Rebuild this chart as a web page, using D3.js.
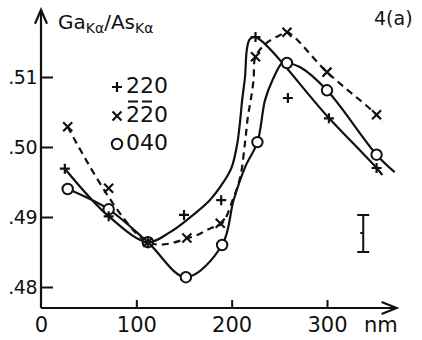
<!DOCTYPE html>
<html><head><meta charset="utf-8">
<script src="https://cdn.jsdelivr.net/npm/d3@7"></script>
<style>
html,body{margin:0;padding:0;background:#fff;}
svg{display:block;}
text{font-family:"DejaVu Sans",sans-serif;fill:#111;}
</style></head>
<body>
<svg id="c" width="422" height="340"></svg>
<script>
// ---- data (nm, Ga/As ratio) ----
const xTicks = [0, 100, 200, 300];
const xTickLabels = ["0", "100", "200", "300"];
const yTicks = [0.48, 0.49, 0.50, 0.51];
const yTickLabels = [".48", ".49", ".50", ".51"];

// measured points
const pts220 = [[25,.4969],[71,.4901],[112,.4864],[150,.4903],[189,.4924],[225,.5157],[259,.5070],[302,.5041],[352,.4970]];
const pts2b2b0 = [[28,.5029],[71,.4941],[112,.4864],[153,.4870],[188,.4891],[225,.5129],[258,.5164],[300,.5107],[352,.5046]];
const pts040 = [[28,.4940],[71,.4911],[112,.4864],[152,.4814],[190,.4860],[227,.5007],[258,.5120],[300,.5081],[352,.4989]];

// hand-drawn guide curves
const curve220 = [[25,.4969],[71,.4901],[112,.4864],[135,.4878],[156,.4899],[177,.4924],[191,.4949],[200,.4971],[206,.5006],[209,.5039],[211,.5067],[214,.5100],[216,.5140],[219,.5154],[225,.5157],[301,.5043],[352,.4970],[358,.4960]];
const curve2b2b0 = [[28,.5029],[112,.4864],[157,.4871],[178,.4884],[190,.4891],[201,.4924],[209,.4957],[214,.5006],[217,.5043],[220,.5067],[223,.5096],[225,.5129],[237,.5149],[251,.5160],[258,.5164],[300,.5107],[352,.5046],[358,.5036]];
const curve040 = [[28,.4940],[71,.4911],[112,.4864],[152,.4814],[190,.4860],[202,.4924],[214,.4971],[227,.5007],[235,.5067],[243,.5096],[253,.5120],[258,.5120],[272,.5114],[300,.5081],[352,.4989],[371,.4964]];

// typical error bar
const errX = [338];
const errRange = [[.4850, .4877, .4903]];

const legendLabels = ["220", "220", "040"];
const legendBarred = [[], [0, 1], []];
const legendSymbols = ["plus", "cross", "circle"];

// ---- drawing ----
const svg = d3.select("#c");
const x = d3.scaleLinear().domain([0, 300]).range([41, 327]);
const y = d3.scaleLinear().domain([0.48, 0.51]).range([287, 77]);
const xAxisVal = 0.477, yTopVal = 0.5196, xEndNm = 373;

const ink = "#111";

// axes lines with arrows
svg.append("line").attr("x1", x(0)).attr("x2", x(0)).attr("y1", y(xAxisVal)).attr("y2", y(yTopVal))
  .attr("stroke", ink).attr("stroke-width", 2.2);
svg.append("path").attr("d", `M${x(0)-6},${y(yTopVal)+14}L${x(0)},${y(yTopVal)}L${x(0)+6},${y(yTopVal)+14}`)
  .attr("fill", "none").attr("stroke", ink).attr("stroke-width", 2.2);
svg.append("line").attr("x1", x(0)).attr("x2", x(xEndNm)).attr("y1", y(xAxisVal)).attr("y2", y(xAxisVal))
  .attr("stroke", ink).attr("stroke-width", 2.2);
svg.append("path").attr("d", `M${x(xEndNm)-15},${y(xAxisVal)-6}L${x(xEndNm)},${y(xAxisVal)}L${x(xEndNm)-15},${y(xAxisVal)+6}`)
  .attr("fill", "none").attr("stroke", ink).attr("stroke-width", 2.2);

// x axis ticks
const gx = svg.append("g").attr("transform", `translate(0,${y(xAxisVal)})`)
  .call(d3.axisBottom(x).tickValues(xTicks).tickFormat((d, i) => xTickLabels[i]).tickSizeInner(-8).tickSizeOuter(0).tickPadding(9));
gx.select(".domain").remove();
gx.selectAll(".tick line").attr("stroke", ink).attr("stroke-width", 2).filter(d => d === 0).remove();
gx.selectAll(".tick text").attr("font-size", 21).attr("font-family", "DejaVu Sans").attr("fill", ink);

// y axis ticks
const gy = svg.append("g").attr("transform", `translate(${x(0)},0)`)
  .call(d3.axisLeft(y).tickValues(yTicks).tickFormat((d, i) => yTickLabels[i]).tickSizeInner(-12).tickSizeOuter(0).tickPadding(4));
gy.select(".domain").remove();
gy.selectAll(".tick line").attr("stroke", ink).attr("stroke-width", 2);
gy.selectAll(".tick text").attr("font-size", 19).attr("font-family", "DejaVu Sans").attr("fill", ink).attr("letter-spacing", -0.5);

// curves
const line = d3.line().x(d => x(d[0])).y(d => y(d[1])).curve(d3.curveCatmullRom.alpha(0.5));
svg.append("path").attr("d", line(curve220)).attr("fill", "none").attr("stroke", ink).attr("stroke-width", 2.2);
svg.append("path").attr("d", line(curve040)).attr("fill", "none").attr("stroke", ink).attr("stroke-width", 2.2);
svg.append("path").attr("d", line(curve2b2b0)).attr("fill", "none").attr("stroke", ink).attr("stroke-width", 2.2)
  .attr("stroke-dasharray", "7,5");

// markers
function drawMarker(g, type, cx, cy) {
  if (type === "plus") {
    g.append("path").attr("d", `M${cx-5},${cy}H${cx+5}M${cx},${cy-5}V${cy+5}`).attr("stroke", ink).attr("stroke-width", 2.2);
  } else if (type === "cross") {
    g.append("path").attr("d", `M${cx-4.5},${cy-4.5}L${cx+4.5},${cy+4.5}M${cx-4.5},${cy+4.5}L${cx+4.5},${cy-4.5}`).attr("stroke", ink).attr("stroke-width", 2.2);
  } else {
    g.append("circle").attr("cx", cx).attr("cy", cy).attr("r", 5.2).attr("fill", "#fff").attr("stroke", ink).attr("stroke-width", 2);
  }
}
const gm = svg.append("g");
pts040.forEach(d => drawMarker(gm, "circle", x(d[0]), y(d[1])));
pts220.forEach(d => drawMarker(gm, "plus", x(d[0]), y(d[1])));
pts2b2b0.forEach(d => drawMarker(gm, "cross", x(d[0]), y(d[1])));

// error bar
errX.forEach((ex, i) => {
  const [lo, mid, hi] = errRange[i];
  const cx = x(ex);
  svg.append("path").attr("d", `M${cx-6},${y(hi)}H${cx+6}M${cx},${y(hi)}V${y(lo)}M${cx-6},${y(lo)}H${cx+6}M${cx-3},${y(mid)}H${cx}`)
    .attr("fill", "none").attr("stroke", ink).attr("stroke-width", 2);
});

// legend (Miller indices, bars above negative indices)
const legBase = [93, 122, 150];
legendLabels.forEach((lab, i) => {
  drawMarker(svg, legendSymbols[i], 117, legBase[i] - 6);
  const tx = svg.append("text").attr("x", 126).attr("y", legBase[i]).attr("font-size", 22).text(lab);
  legendBarred[i].forEach(ci => {
    const ext = tx.node().getExtentOfChar(ci);
    svg.append("line").attr("x1", ext.x + 2).attr("x2", ext.x + ext.width - 2)
      .attr("y1", legBase[i] - 20.5).attr("y2", legBase[i] - 20.5)
      .attr("stroke", ink).attr("stroke-width", 2);
  });
});

// axis title
const t = svg.append("text").attr("x", 58).attr("y", 29).attr("font-size", 20);
t.append("tspan").text("Ga");
t.append("tspan").attr("font-size", 14).attr("dy", 4).text("Kα");
t.append("tspan").attr("dy", -4).text("/As");
t.append("tspan").attr("font-size", 14).attr("dy", 4).text("Kα");

svg.append("text").attr("x", 374).attr("y", 25).attr("font-size", 19).text("4(a)");
svg.append("text").attr("x", 364).attr("y", 332).attr("font-size", 21).text("nm");
</script>
</body></html>
